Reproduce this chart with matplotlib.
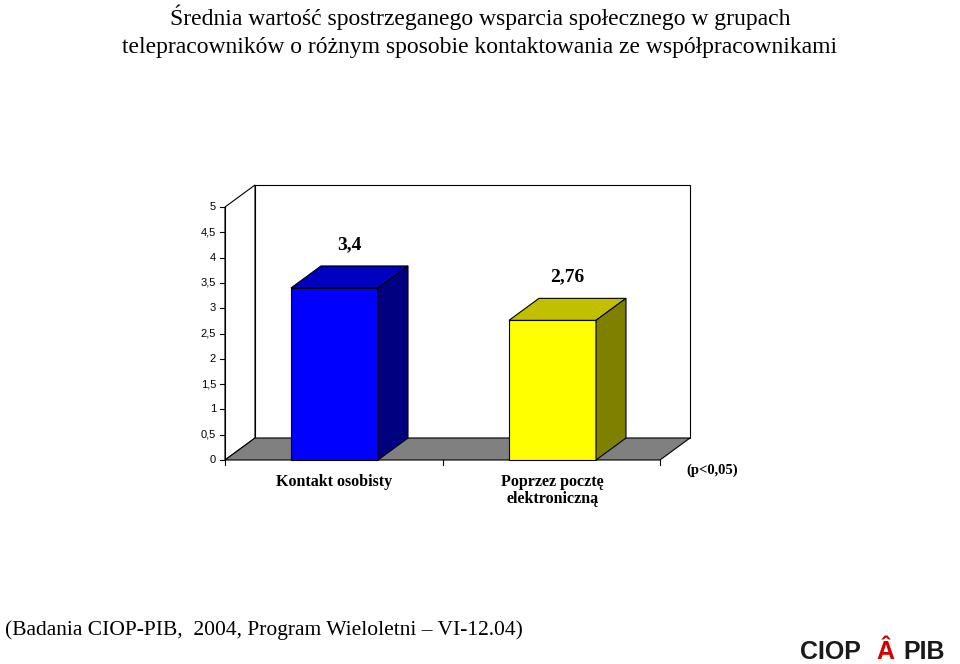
import matplotlib
matplotlib.use("Agg")
import matplotlib.pyplot as plt
from matplotlib.patches import Polygon

categories = ["Kontakt osobisty", "Poprzez pocztę\nelektroniczną"]
values = [3.4, 2.76]
value_labels = ["3,4", "2,76"]
tick_values = [0, 0.5, 1, 1.5, 2, 2.5, 3, 3.5, 4, 4.5, 5]
tick_labels = ["0", "0,5", "1", "1,5", "2", "2,5", "3", "3,5", "4", "4,5", "5"]

fig = plt.figure(figsize=(9.6, 6.64), dpi=100)
ax = fig.add_axes([0, 0, 1, 1])
ppu = 50.6
ax.set_xlim(0, 960)
ax.set_ylim(-(664 - 460) / ppu, 460 / ppu)
ax.axis("off")

dx, dy = 30, 22 / ppu
x0, x1 = 225, 660
top = 5
ax.add_patch(Polygon([(x0+dx, dy), (x1+dx, dy), (x1+dx, top+dy), (x0+dx, top+dy)],
                     closed=True, fc="white", ec="black", lw=0.8))
ax.add_patch(Polygon([(x0, 0), (x0+dx, dy), (x0+dx, top+dy), (x0, top)],
                     closed=True, fc="white", ec="black", lw=0.8))
ax.add_patch(Polygon([(x0, 0), (x1, 0), (x1+dx, dy), (x0+dx, dy)],
                     closed=True, fc="#808080", ec="black", lw=0.8))
ax.plot([x0, x0], [0, top], color="black", lw=0.8)
for v, lab in zip(tick_values, tick_labels):
    ax.plot([x0-5, x0], [v, v], color="black", lw=0.8)
    ax.text(x0-9, v, lab, ha="right", va="center", fontsize=8, family="Liberation Sans")
for xs in [x0, (x0+x1)/2, x1]:
    ax.plot([xs, xs], [0, -0.1], color="black", lw=0.8)

centers = [334.5, 552.5]
w = 87
bdx = 30
fronts = ["#0000FF", "#FFFF00"]
tops = ["#0000C0", "#C0C000"]
sides = ["#000080", "#808000"]
for c, v, lab, cat, fc, tc, sc in zip(centers, values, value_labels, categories, fronts, tops, sides):
    ax.bar(c, v, width=w, color=fc, edgecolor="black", lw=0.8)
    l, r = c - w/2, c + w/2
    ax.add_patch(Polygon([(l, v), (r, v), (r+bdx, v+dy), (l+bdx, v+dy)], closed=True, fc=tc, ec="black", lw=0.8))
    ax.add_patch(Polygon([(r, 0), (r+bdx, dy), (r+bdx, v+dy), (r, v)], closed=True, fc=sc, ec="black", lw=0.8))
    ax.text(c+bdx/2, v+dy+0.25, lab, ha="center", va="bottom", fontsize=14, fontweight="bold",
            family="Liberation Serif")
    ax.text(c, -0.27, cat, ha="center", va="top", fontsize=11.5, fontweight="bold",
            family="Liberation Serif", linespacing=1.15)

ax.text(712, -0.2, "(p<0,05)", ha="center", va="center", fontsize=10.5, fontweight="bold",
        family="Liberation Serif")

fig.text(0.5, 1 - 17/664, "Średnia wartość spostrzeganego wsparcia społecznego w grupach",
         ha="center", va="center", fontsize=17, family="Liberation Serif")
fig.text(0.5, 1 - 47/664, "telepracowników o różnym sposobie kontaktowania ze współpracownikami",
         ha="center", va="center", fontsize=17, family="Liberation Serif")
fig.text(5/960, 1 - 630/664, "(Badania CIOP-PIB,  2004, Program Wieloletni – VI-12.04)",
         ha="left", va="center", fontsize=15.5, family="Liberation Serif")
fig.text(800/960, 1 - 652/664, "CIOP", ha="left", va="center", fontsize=18, fontweight="bold",
         family="Liberation Sans", color="#1a1a1a")
fig.text(876/960, 1 - 652/664, "Â", ha="left", va="center", fontsize=18, fontweight="bold",
         family="Liberation Sans", color="#d40000")
fig.text(903/960, 1 - 652/664, "PIB", ha="left", va="center", fontsize=18, fontweight="bold",
         family="Liberation Sans", color="#1a1a1a")
fig.savefig("out.png", dpi=100)
